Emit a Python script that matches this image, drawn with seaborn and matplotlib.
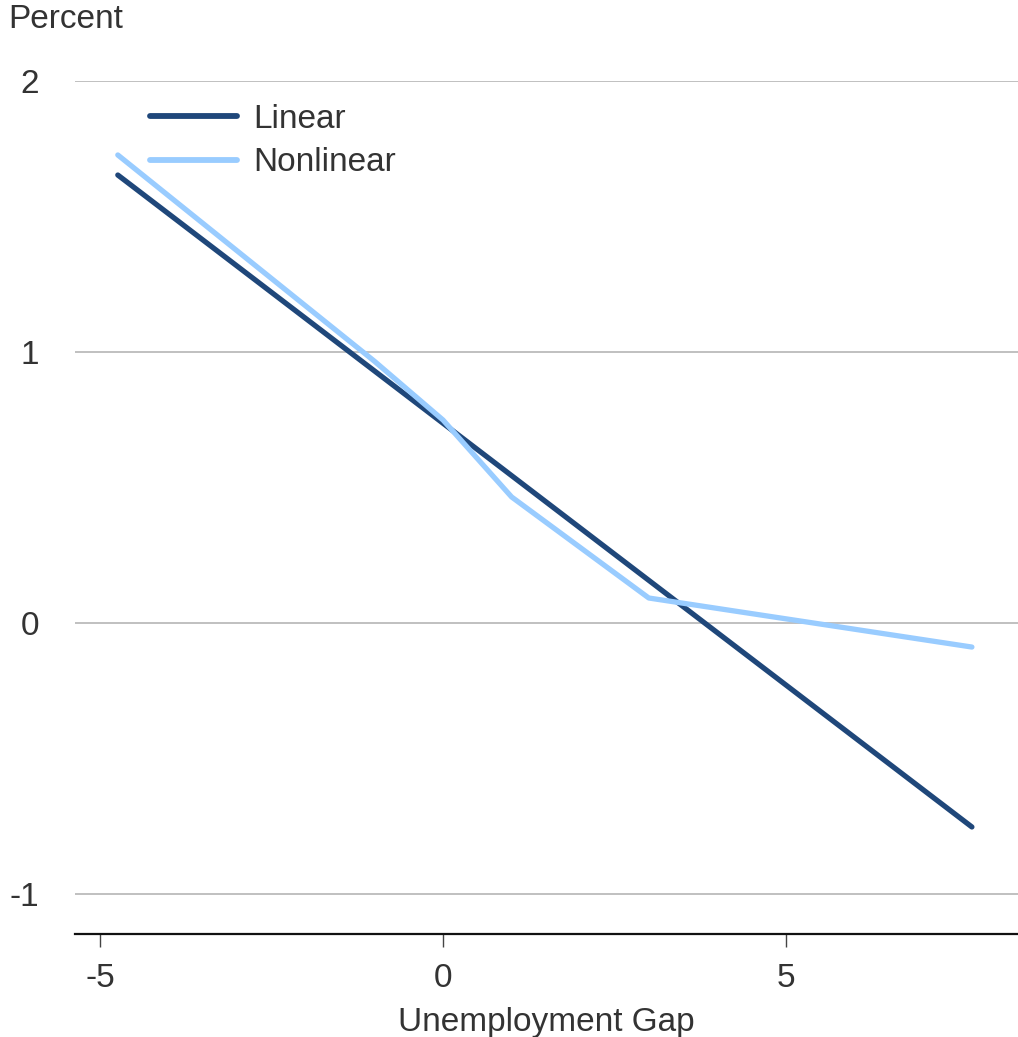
import matplotlib
matplotlib.use("Agg")
import matplotlib.pyplot as plt
import numpy as np
import pandas as pd
import seaborn as sns

#%% Data
gap_linear = [-4.74, 7.71]
val_linear = [1.653, -0.753]

gap_nonlinear = [-4.74, -1.0, 0.0, 1.0, 3.0, 7.71]
val_nonlinear = [1.727, 0.966, 0.749, 0.465, 0.092, -0.089]

series_names = ["Linear", "Nonlinear"]
series_colors = ["#1f477a", "#99ccff"]

y_ticks = [-1, 0, 1, 2]
x_ticks = [-5, 0, 5]

data = pd.concat([
    pd.DataFrame({"gap": gap_linear, "value": val_linear, "series": "Linear"}),
    pd.DataFrame({"gap": gap_nonlinear, "value": val_nonlinear, "series": "Nonlinear"}),
])

#%% Figure
sns.set_style("white")
plt.rcParams['font.family'] = ['Liberation Sans', 'DejaVu Sans']
text_color = "#333333"
fs = 24

fig = plt.figure(figsize=(10.18, 10.37), dpi=100)
ax = fig.add_axes([75 / 1018, 103 / 1037, 943 / 1018, 853 / 1037])

sns.lineplot(data=data, x="gap", y="value", hue="series", hue_order=series_names,
             palette=dict(zip(series_names, series_colors)), linewidth=3.8,
             ax=ax, legend=False, sort=False)

ax.set_xlim(-5.364, 8.382)
ax.set_ylim(-1.148, 2.0)
ax.set_yticks(y_ticks)
ax.set_xticks(x_ticks)
ax.set_yticklabels([str(v) for v in y_ticks])
ax.set_xticklabels([str(v) for v in x_ticks])

for y in y_ticks:
    ax.axhline(y, color="#bbbbbb", linewidth=1.3, zorder=0)

for side in ["top", "right", "left"]:
    ax.spines[side].set_visible(False)
ax.spines["bottom"].set_color("#111111")
ax.spines["bottom"].set_linewidth(1.6)

ax.tick_params(axis="y", left=False, length=0, pad=26, labelsize=fs, labelcolor=text_color)
ax.tick_params(axis="x", bottom=True, direction="out", length=9, width=1,
               color="#444444", pad=12, labelsize=fs, labelcolor=text_color)

ax.set_xlabel("Unemployment Gap", fontsize=fs, color=text_color, labelpad=9)
ax.set_ylabel("")
fig.text(8 / 1018, 1 - 20 / 1037, "Percent", fontsize=fs, color=text_color,
         ha="left", va="center")

handles = [plt.Line2D([], [], color=c, linewidth=4.2) for c in series_colors]
ax.legend(handles, series_names, loc="upper left", frameon=False,
          bbox_to_anchor=(150 / 1018, 1 - 104 / 1037), bbox_transform=fig.transFigure,
          fontsize=fs, handlelength=2.6, handletextpad=0.5, labelspacing=0.37,
          borderpad=0, borderaxespad=0, labelcolor=text_color)

fig.savefig("out.png", dpi=100)
